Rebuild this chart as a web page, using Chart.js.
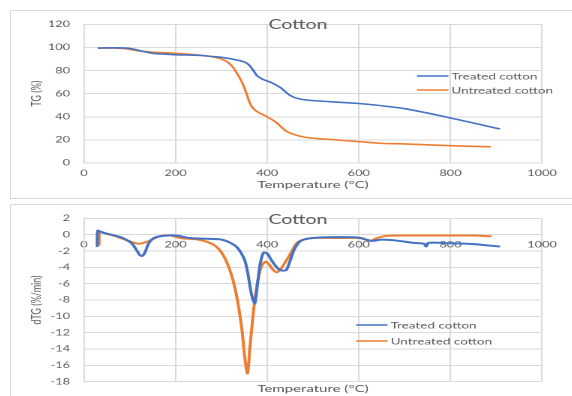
<!DOCTYPE html>
<html>
<head>
<meta charset="utf-8">
<script src="https://cdn.jsdelivr.net/npm/chart.js@4.4.1/dist/chart.umd.min.js"></script>
<style>
  html, body { margin: 0; padding: 0; background: #fff; }
  body { width: 572px; height: 396px; position: relative; overflow: hidden; }
  .frame { position: absolute; border: 1px solid #d9d9d9; box-sizing: border-box; }
  /* the reference picture is stretched sideways, so draw narrow and stretch */
  .stretch { position: absolute; left: 10px; width: 375px; transform: scaleX(1.5); transform-origin: 0 0; }
</style>
</head>
<body>
<div class="frame" style="left:10px;top:10px;width:580px;height:189px"></div>
<div class="frame" style="left:10px;top:204px;width:580px;height:200px"></div>
<div class="stretch" style="top:10px;height:188px"><canvas id="tg" width="375" height="188"></canvas></div>
<div class="stretch" style="top:204px;height:192px"><canvas id="dtg" width="375" height="192"></canvas></div>
<script>
// TG curves (mass %, vs temperature °C)
const tgTempTreated = [30, 60, 90, 110, 130, 150, 200, 250, 280, 300, 330, 350, 360, 370, 378, 390, 410, 430, 450, 470, 500, 600, 700, 800, 908];
const tgTreated = [99.5, 99.7, 99.5, 98.5, 96.5, 95, 93.8, 93.2, 92.2, 91.5, 89.5, 87.5, 85, 80, 75.5, 72.5, 69.5, 65, 58.5, 55.5, 54, 51.5, 47, 39, 29.5];
const tgTempUntreated = [30, 60, 90, 120, 150, 200, 250, 280, 300, 315, 325, 335, 345, 355, 362, 370, 380, 400, 420, 440, 460, 480, 500, 550, 600, 650, 700, 800, 888];
const tgUntreated = [99.5, 99.5, 99, 97, 96, 95, 93.5, 92, 90, 87, 83, 77, 70, 60, 52, 47, 44, 40, 35, 28, 24.5, 22.5, 21.5, 20, 18.5, 17, 16.5, 15, 14];

// dTG curves (%/min, vs temperature °C)
const dtgTempTreated = [29, 30, 35, 45, 60, 80, 95, 105, 115, 122, 127, 133, 140, 150, 165, 200, 230, 270, 300, 320, 335, 350, 357, 363, 368, 373, 380, 385, 392, 400, 408, 418, 427, 435, 442, 450, 460, 475, 500, 550, 600, 615, 630, 650, 680, 720, 742, 747, 752, 800, 850, 880, 908];
const dtgTreated = [-1.5, 0.5, 0.4, 0.2, 0, -0.3, -0.7, -1.1, -1.9, -2.5, -2.6, -2.2, -1.2, -0.5, -0.2, -0.1, -0.4, -0.5, -0.6, -1.0, -1.6, -3, -4.5, -6.5, -7.8, -8.4, -5.5, -3.5, -2.2, -2.3, -3, -3.8, -4.3, -4.4, -4.3, -3.2, -1.7, -0.7, -0.4, -0.3, -0.35, -0.6, -0.75, -0.6, -0.7, -1.0, -1.1, -1.45, -1.0, -1.05, -1.15, -1.3, -1.45];
const dtgTempUntreated = [33, 34, 40, 50, 65, 80, 95, 110, 120, 130, 145, 160, 175, 190, 210, 230, 250, 270, 285, 295, 305, 315, 325, 335, 345, 351, 357, 362, 368, 373, 380, 388, 397, 405, 413, 421, 428, 438, 450, 465, 480, 500, 550, 600, 612, 625, 640, 660, 700, 800, 850, 890];
const dtgUntreated = [-1.3, 0.4, 0.3, 0.1, -0.1, -0.4, -0.7, -1, -1.1, -1, -0.7, -0.3, -0.1, -0.1, -0.4, -0.5, -0.6, -0.9, -1.3, -1.8, -2.6, -3.8, -5.5, -8, -11.7, -15, -17, -14, -10.5, -8, -5.5, -3.8, -3.3, -3.7, -4.3, -4.6, -4.3, -3.5, -2.4, -1, -0.6, -0.4, -0.4, -0.4, -0.5, -0.75, -0.4, -0.15, -0.1, -0.1, -0.1, -0.2];

const seriesNames = ["Treated cotton", "Untreated cotton"];
const chartTitle = "Cotton";
const xTitle = "Temperature (°C)";

const BLUE = "#4472c4", ORANGE = "#ed7d31", GRID = "#d9d9d9", TEXT = "#595959";
Chart.defaults.font.family = "Lato";
Chart.defaults.color = TEXT;

const pts = (xs, ys) => xs.map((x, i) => ({ x: x, y: ys[i] }));
const plain = v => String(v);

// title and legend sit inside the plot, like the spreadsheet chart
const overlay = {
  id: "overlay",
  afterDraw(chart, args, o) {
    const ctx = chart.ctx;
    ctx.save();
    ctx.fillStyle = TEXT;
    ctx.font = "13px Lato";
    ctx.textAlign = "center";
    ctx.textBaseline = "middle";
    ctx.fillText(o.title, o.titleX, o.titleY);
    ctx.font = "9px Lato";
    ctx.textAlign = "left";
    chart.data.datasets.forEach((ds, i) => {
      const y = o.legendY + i * o.legendGap;
      ctx.strokeStyle = ds.borderColor;
      ctx.lineWidth = 1.5;
      ctx.beginPath();
      ctx.moveTo(o.legendX, y);
      ctx.lineTo(o.legendX + 21, y);
      ctx.stroke();
      ctx.fillText(ds.label, o.legendX + 23, y + 0.5);
    });
    ctx.restore();
  }
};

const common = {
  responsive: false,
  animation: false,
  devicePixelRatio: 2,
  events: [],
  plugins: { legend: { display: false }, tooltip: { enabled: false } },
  elements: { point: { radius: 0 }, line: { tension: 0.3 } },
};

new Chart(document.getElementById("tg"), {
  type: "line",
  plugins: [overlay],
  data: {
    datasets: [
      { label: seriesNames[0], data: pts(tgTempTreated, tgTreated), borderColor: BLUE, borderWidth: 1.6 },
      { label: seriesNames[1], data: pts(tgTempUntreated, tgUntreated), borderColor: ORANGE, borderWidth: 1.6 },
    ],
  },
  options: {
    ...common,
    layout: { padding: { top: 10, right: 20.3, left: 0, bottom: 0 } },
    plugins: {
      ...common.plugins,
      overlay: { title: chartTitle, titleX: 192, titleY: 15, legendX: 271.3, legendY: 66, legendGap: 14 },
    },
    scales: {
      x: {
        type: "linear", min: 0, max: 1000,
        ticks: { stepSize: 200, padding: 5, font: { size: 8.5 }, callback: plain },
        grid: { color: GRID, drawTicks: false },
        border: { color: GRID },
        title: { display: true, text: xTitle, font: { size: 10 }, padding: { top: 0, bottom: 7 } },
        afterFit: s => { s.height = 35; },
      },
      y: {
        min: 0, max: 120,
        ticks: { stepSize: 20, padding: 9.3, font: { size: 8.5 } },
        grid: { color: GRID, drawTicks: false },
        border: { color: GRID },
        title: { display: true, text: "TG (%)", font: { size: 9 }, padding: { top: 12, bottom: 0 } },
        afterFit: s => { s.width = 49.3; },
      },
    },
  },
});

new Chart(document.getElementById("dtg"), {
  type: "line",
  plugins: [overlay],
  data: {
    datasets: [
      { label: seriesNames[0], data: pts(dtgTempTreated, dtgTreated), borderColor: BLUE, borderWidth: 2 },
      { label: seriesNames[1], data: pts(dtgTempUntreated, dtgUntreated), borderColor: ORANGE, borderWidth: 2 },
    ],
  },
  options: {
    ...common,
    layout: { padding: { top: 10, right: 20.3, left: 0, bottom: 0 } },
    plugins: {
      ...common.plugins,
      overlay: { title: chartTitle, titleX: 192, titleY: 16, legendX: 230.7, legendY: 121, legendGap: 16 },
    },
    scales: {
      x: {
        type: "linear", min: 0, max: 1000, position: { y: 0 },
        ticks: { stepSize: 200, padding: 5, font: { size: 8.5 }, callback: plain },
        grid: { color: GRID, drawTicks: false },
        border: { color: GRID },
      },
      xt: {
        type: "linear", position: "bottom",
        ticks: { display: false },
        grid: { display: false },
        border: { display: false },
        title: { display: true, text: xTitle, font: { size: 10 }, padding: 0 },
        afterFit: s => { s.height = 13; },
      },
      y: {
        min: -18, max: 2,
        ticks: { stepSize: 2, padding: 9.3, font: { size: 8.5 } },
        grid: { color: GRID, drawTicks: false },
        border: { color: GRID },
        title: { display: true, text: "dTG (%/min)", font: { size: 9 }, padding: { top: 12, bottom: 0 } },
        afterFit: s => { s.width = 49.3; },
      },
    },
  },
});
</script>
</body>
</html>
